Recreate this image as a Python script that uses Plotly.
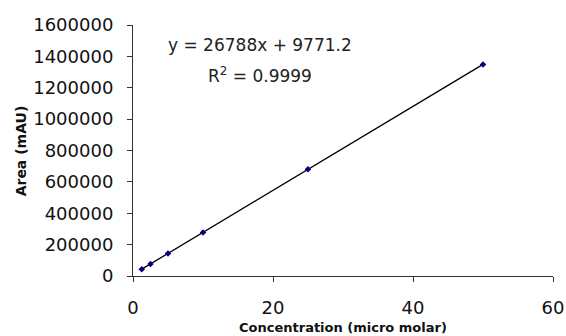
import numpy as np
import plotly.graph_objects as go

concentration = [1.25, 2.5, 5, 10, 25, 50]
area = [43000, 77000, 144000, 278000, 680000, 1349000]
x_ticks = [0, 20, 40, 60]
y_ticks = [0, 200000, 400000, 600000, 800000, 1000000, 1200000, 1400000, 1600000]
equation_text = "y = 26788x + 9771.2"
r2_text = "R<sup>2</sup> = 0.9999"
x_title = "<b>Concentration (micro molar)</b>"
y_title = "<b>Area (mAU)</b>"

slope, intercept = np.polyfit(concentration, area, 1)
fit_x = [min(concentration), max(concentration)]
fit_y = [slope * v + intercept for v in fit_x]

fig = go.Figure()
fig.add_trace(go.Scatter(x=fit_x, y=fit_y, mode="lines",
                         line=dict(color="black", width=1.3), showlegend=False))
fig.add_trace(go.Scatter(x=concentration, y=area, mode="markers",
                         marker=dict(symbol="diamond", size=5, color="#000080"),
                         showlegend=False))

fig.add_annotation(x=0.303, y=0.92, xref="paper", yref="paper", text=equation_text,
                   showarrow=False, font=dict(family="DejaVu Sans", size=17, color="#222"),
                   xanchor="center", yanchor="middle")
fig.add_annotation(x=0.303, y=0.80, xref="paper", yref="paper", text=r2_text,
                   showarrow=False, font=dict(family="DejaVu Sans", size=17, color="#222"),
                   xanchor="center", yanchor="middle")
# axis titles
fig.add_annotation(x=0.5, y=-0.207, xref="paper", yref="paper", text=x_title,
                   showarrow=False, font=dict(family="DejaVu Sans", size=13, color="#111"),
                   xanchor="center", yanchor="middle")
fig.add_annotation(x=-0.267, y=0.5, xref="paper", yref="paper", text=y_title,
                   showarrow=False, textangle=-90,
                   font=dict(family="DejaVu Sans", size=14, color="#111"),
                   xanchor="center", yanchor="middle")

axis_font = dict(family="DejaVu Sans", size=18, color="#111")
fig.update_xaxes(range=[0, 60], tickvals=x_ticks, ticks="outside", ticklen=5,
                 tickcolor="#333", showline=True, linecolor="#333", linewidth=1,
                 showgrid=False, zeroline=False, tickfont=axis_font,
                 ticklabelstandoff=10, automargin=False)
fig.update_yaxes(range=[0, 1600000], tickvals=y_ticks, ticks="outside", ticklen=5,
                 tickcolor="#333", showline=True, linecolor="#333", linewidth=1,
                 showgrid=False, zeroline=False, tickfont=axis_font,
                 tickformat="d", ticklabelstandoff=10, automargin=False)
fig.update_layout(width=566, height=336, margin=dict(l=133, r=13, t=25, b=60),
                  paper_bgcolor="white", plot_bgcolor="white")
fig.write_html("out.html", post_script="document.body.style.margin='0';",
               config={"displayModeBar": False})
